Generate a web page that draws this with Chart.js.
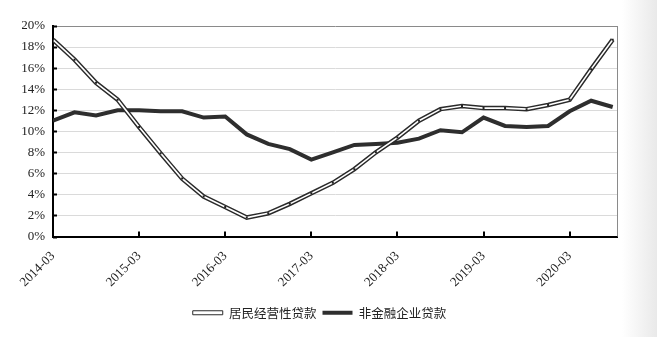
<!DOCTYPE html>
<html>
<head>
<meta charset="utf-8">
<script src="https://cdn.jsdelivr.net/npm/chart.js@4.4.1/dist/chart.umd.min.js"></script>
<style>
    html, body {
        margin: 0;
        padding: 0;
        background: linear-gradient(to right, #ffffff 0px, #ffffff 622px, #e9e9e9 657px);
    }
    #wrap {
        position: relative;
        width: 657px;
        height: 337px;
    }
</style>
</head>
<body>
<div id="wrap"><canvas id="chart-loans"></canvas></div>
<script>
'use strict';

var quarters = ['2014-03', '2014-06', '2014-09', '2014-12',
    '2015-03', '2015-06', '2015-09', '2015-12',
    '2016-03', '2016-06', '2016-09', '2016-12',
    '2017-03', '2017-06', '2017-09', '2017-12',
    '2018-03', '2018-06', '2018-09', '2018-12',
    '2019-03', '2019-06', '2019-09', '2019-12',
    '2020-03', '2020-06', '2020-09'];

// 居民经营性贷款 (%)
var household_business = [18.7, 16.8, 14.6, 13.0, 10.4, 7.9, 5.5, 3.8, 2.8, 1.8, 2.2, 3.1, 4.1,
    5.1, 6.4, 8.0, 9.4, 11.0, 12.1, 12.4, 12.2, 12.2, 12.1, 12.5, 13.0, 15.9, 18.7];

// 非金融企业贷款 (%)
var corporate_loans = [11.0, 11.8, 11.5, 12.0, 12.0, 11.9, 11.9, 11.3, 11.4, 9.7, 8.8, 8.3, 7.3,
    8.0, 8.7, 8.8, 8.9, 9.3, 10.1, 9.9, 11.3, 10.5, 10.4, 10.5, 11.9, 12.9, 12.3];

var series_names = ['居民经营性贷款', '非金融企业贷款'];
var y_ticks = [0, 2, 4, 6, 8, 10, 12, 14, 16, 18, 20];
var x_tick_index = [0, 4, 8, 12, 16, 20, 24];

var toPoints = function(values) {
    return values.map(function(v, i) {
        return { x: i, y: v };
    });
};

// inward tick marks + right frame line
var framePlugin = {
    id: 'frame',
    afterDatasetsDraw: function(chart) {
        var ctx = chart.ctx;
        var area = chart.chartArea;
        var xs = chart.scales.x;
        var ys = chart.scales.y;
        ctx.save();
        ctx.strokeStyle = '#8a8a8a';
        ctx.lineWidth = 1;
        ctx.beginPath();
        ctx.moveTo(area.right + 0.5, area.top);
        ctx.lineTo(area.right + 0.5, area.bottom);
        ctx.stroke();

        ctx.strokeStyle = '#000';
        ctx.lineWidth = 2;
        ctx.beginPath();
        x_tick_index.forEach(function(i) {
            if (i === 0) return;
            var px = Math.round(xs.getPixelForValue(i));
            ctx.moveTo(px, area.bottom);
            ctx.lineTo(px, area.bottom - 5);
        });
        y_ticks.forEach(function(v) {
            var py = Math.round(ys.getPixelForValue(v)) + 0.5;
            ctx.moveTo(area.left, py);
            ctx.lineTo(area.left + 4, py);
        });
        ctx.stroke();
        ctx.restore();
    }
};

var ctx_loans = document.getElementById('chart-loans').getContext('2d');

var chart_loans = new Chart(ctx_loans, {
    type: 'line',
    data: {
        datasets: [{
                label: 'outline',
                data: toPoints(household_business),
                borderColor: '#2a2a2a',
                borderWidth: 4.5,
                pointRadius: 0,
                tension: 0,
                order: 1
            },
            {
                label: series_names[0],
                data: toPoints(household_business),
                borderColor: '#ffffff',
                backgroundColor: '#ffffff',
                borderWidth: 1.6,
                pointRadius: 1.4,
                pointStyle: 'rect',
                pointBackgroundColor: '#222',
                pointBorderWidth: 0,
                tension: 0,
                order: 0
            },
            {
                label: series_names[1],
                data: toPoints(corporate_loans),
                borderColor: '#2e2e2e',
                backgroundColor: '#2e2e2e',
                borderWidth: 4,
                pointRadius: 0,
                tension: 0,
                order: 2
            }
        ]
    },
    options: {
        responsive: true,
        maintainAspectRatio: false,
        animation: false,
        layout: {
            padding: { left: 22, right: 40, top: 26, bottom: 8 }
        },
        scales: {
            x: {
                type: 'linear',
                min: 0,
                max: 26.2,
                afterBuildTicks: function(scale) {
                    scale.ticks = x_tick_index.map(function(i) {
                        return { value: i };
                    });
                },
                afterFit: function(scale) {
                    scale.height = 64;
                },
                grid: { display: false, drawTicks: false },
                border: { color: '#000', width: 2 },
                ticks: {
                    autoSkip: false,
                    minRotation: 45,
                    maxRotation: 45,
                    padding: 12,
                    color: '#222',
                    font: { family: '"Liberation Serif"', size: 13 },
                    callback: function(value) {
                        return quarters[value];
                    }
                }
            },
            y: {
                min: 0,
                max: 20,
                afterBuildTicks: function(scale) {
                    scale.ticks = y_ticks.map(function(v) {
                        return { value: v };
                    });
                },
                afterFit: function(scale) {
                    scale.width = 31;
                },
                grid: {
                    drawTicks: false,
                    color: function(c) {
                        return c.tick && c.tick.value === 20 ? '#8a8a8a' : '#dadada';
                    }
                },
                border: { color: '#000', width: 2 },
                ticks: {
                    padding: 8,
                    color: '#222',
                    font: { family: '"Liberation Serif"', size: 13 },
                    callback: function(value) {
                        return value + '%';
                    }
                }
            }
        },
        plugins: {
            tooltip: { enabled: false },
            legend: {
                position: 'bottom',
                labels: {
                    boxWidth: 30,
                    boxHeight: 4,
                    padding: 6,
                    color: '#222',
                    font: { family: '"Noto Sans CJK SC"', size: 12.5 },
                    filter: function(item) {
                        return item.text !== 'outline';
                    },
                    generateLabels: function(chart) {
                        var items = Chart.defaults.plugins.legend.labels.generateLabels(chart);
                        items.forEach(function(item) {
                            if (item.text === series_names[0]) {
                                item.fillStyle = '#ffffff';
                                item.strokeStyle = '#2a2a2a';
                                item.lineWidth = 1;
                            } else if (item.text === series_names[1]) {
                                item.lineWidth = 0;
                            }
                        });
                        return items;
                    }
                }
            }
        }
    },
    plugins: [framePlugin]
});
</script>
</body>
</html>
